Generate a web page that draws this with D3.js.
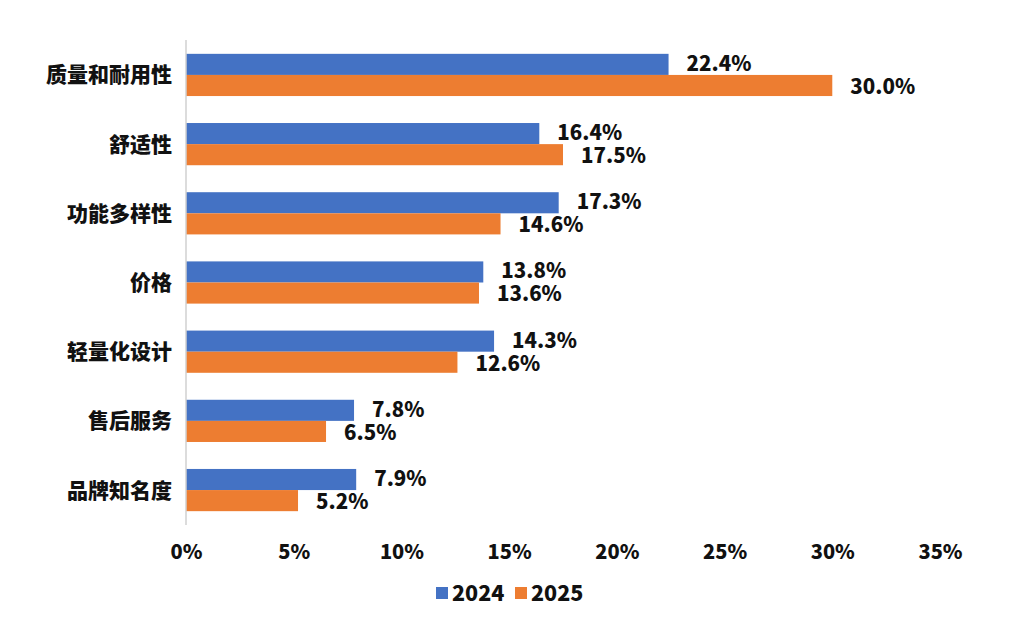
<!DOCTYPE html>
<html lang="zh">
<head>
<meta charset="UTF-8">
<title>购买因素</title>
<script src="https://d3js.org/d3.v7.min.js"></script>
<style>
  body { margin: 0; background: #fff; font-family: "Noto Sans CJK SC", "Noto Sans", sans-serif; }
  svg text { font-weight: 900; fill: #111; }
</style>
</head>
<body>
<svg width="1010" height="630"></svg>
<script>
const categories = ["质量和耐用性", "舒适性", "功能多样性", "价格", "轻量化设计", "售后服务", "品牌知名度"];
const series = ["2024", "2025"];
const values2024 = [22.4, 16.4, 17.3, 13.8, 14.3, 7.8, 7.9];
const values2025 = [30.0, 17.5, 14.6, 13.6, 12.6, 6.5, 5.2];
const xTicks = [0, 5, 10, 15, 20, 25, 30, 35];
const colors = ["#4472C4", "#ED7D31"];

const svg = d3.select("svg");
const margin = { top: 40, left: 186, right: 70, bottom: 105 };
const width = 1010 - margin.left - margin.right;
const height = 630 - margin.top - margin.bottom;
const g = svg.append("g").attr("transform", `translate(${margin.left},${margin.top})`);

const x = d3.scaleLinear().domain([0, 35]).range([0, 754]);
const y = d3.scaleBand().domain(categories).range([0, height]).paddingInner(0.39).paddingOuter(0.2);
const y1 = d3.scaleBand().domain(series).range([0, y.bandwidth()]);

const rows = categories.map((c, i) => ({ cat: c, vals: [values2024[i], values2025[i]] }));

const grp = g.selectAll(".grp").data(rows).enter().append("g")
  .attr("transform", d => `translate(0,${y(d.cat)})`);

grp.selectAll("rect").data(d => d.vals.map((v, j) => ({ s: series[j], v, j }))).enter().append("rect")
  .attr("x", 0)
  .attr("y", d => y1(d.s))
  .attr("width", d => x(d.v))
  .attr("height", y1.bandwidth())
  .attr("fill", d => colors[d.j]);

grp.selectAll(".lbl").data(d => d.vals.map((v, j) => ({ s: series[j], v, j }))).enter().append("text")
  .attr("class", "lbl")
  .attr("x", d => x(d.v) + 18)
  .attr("y", d => y1(d.s) + y1.bandwidth() / 2 + (d.j ? 1 : -1))
  .attr("dy", "0.36em")
  .attr("font-size", 20.5)
  .text(d => d.v.toFixed(1) + "%");

// category labels
g.selectAll(".cat").data(categories).enter().append("text")
  .attr("x", -14)
  .attr("y", d => y(d) + y.bandwidth() / 2)
  .attr("dy", "0.36em")
  .attr("text-anchor", "end")
  .attr("font-size", 21)
  .text(d => d);

// vertical axis line
g.append("line").attr("x1", 0).attr("x2", 0).attr("y1", 0).attr("y2", height)
  .attr("stroke", "#d0d0d0").attr("stroke-width", 1.5);

// x axis ticks
const xa = g.append("g").attr("transform", `translate(0,${height})`)
  .call(d3.axisBottom(x).tickValues(xTicks).tickFormat(d => d + "%").tickSize(0).tickPadding(20));
xa.select(".domain").remove();
xa.selectAll("text").attr("font-size", 20).attr("font-family", "Noto Sans CJK SC").style("fill", "#111");

// legend
const leg = svg.append("g").attr("transform", "translate(436,593)");
const items = [{ s: "2024", c: colors[0], x: 0 }, { s: "2025", c: colors[1], x: 79 }];
items.forEach(it => {
  leg.append("rect").attr("x", it.x).attr("y", -6).attr("width", 12).attr("height", 12).attr("fill", it.c);
  leg.append("text").attr("x", it.x + 16).attr("y", 0).attr("dy", "0.36em").attr("font-size", 21.5).text(it.s);
});
</script>
</body>
</html>
